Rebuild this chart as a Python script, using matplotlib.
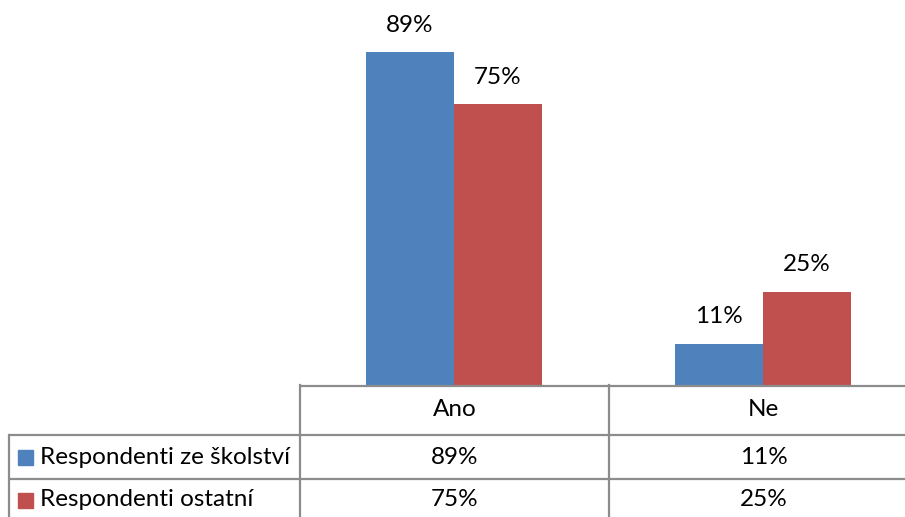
import matplotlib
matplotlib.use("Agg")
import matplotlib.pyplot as plt
from matplotlib.patches import Rectangle

categories = ["Ano", "Ne"]
series_names = ["Respondenti ze školství", "Respondenti ostatní"]
series_values = [[0.89, 0.11], [0.75, 0.25]]
colors = ["#4F81BD", "#C0504D"]

plt.rcParams['font.family'] = ['Lato', 'DejaVu Sans']
FS = 17.5

W, H = 905, 517
fig = plt.figure(figsize=(W / 100, H / 100), dpi=100)

# chart axes (pixel layout: x 300..918, baseline y=385, 100% at y=11)
ax = fig.add_axes([299 / W, (H - 385) / H, 618 / W, 374 / H])
bw = 88 / 309
xs = range(len(categories))
for i, (vals, c) in enumerate(zip(series_values, colors)):
    off = (i - 0.5) * bw
    pos = [x + off for x in xs]
    ax.bar(pos, vals, width=bw, color=c, linewidth=0)
    for p, v in zip(pos, vals):
        ax.annotate(f"{v*100:.0f}%", (p, v), xytext=(0, 19.5), textcoords='offset points',
                    ha='center', va='center', fontsize=FS)
ax.set_xlim(-0.5, len(categories) - 0.5)
ax.set_ylim(0, 1)
ax.axis('off')

# data table overlay in pixel coordinates
t = fig.add_axes([0, 0, 1, 1], facecolor='none')
t.set_xlim(0, W)
t.set_ylim(H, 0)
t.axis('off')
lc = "#8C8C8C"
lw = 1.6
col_edges = [300, 609, 918]
t.plot([300, W], [385.5, 385.5], color=lc, lw=lw, solid_capstyle='butt')
for y in [435, 479]:
    t.plot([8.5, W], [y, y], color=lc, lw=lw, solid_capstyle='butt')
t.plot([8.5, 8.5], [435, H], color=lc, lw=lw)
for x in col_edges[:2]:
    t.plot([x, x], [385, H], color=lc, lw=lw)

for j, cat in enumerate(categories):
    cx = (col_edges[j] + col_edges[j + 1]) / 2
    t.text(cx, 410, cat, ha='center', va='center', fontsize=FS)

row_centers = [457, 500]
for i, name in enumerate(series_names):
    yc = row_centers[i]
    t.add_patch(Rectangle((18, yc - 7.5), 15, 15, color=colors[i]))
    t.text(40, yc, name, ha='left', va='center', fontsize=FS)
    for j, v in enumerate(series_values[i]):
        cx = (col_edges[j] + col_edges[j + 1]) / 2
        t.text(cx, yc, f"{v*100:.0f}%", ha='center', va='center', fontsize=FS)

fig.savefig("out.png", dpi=100)
